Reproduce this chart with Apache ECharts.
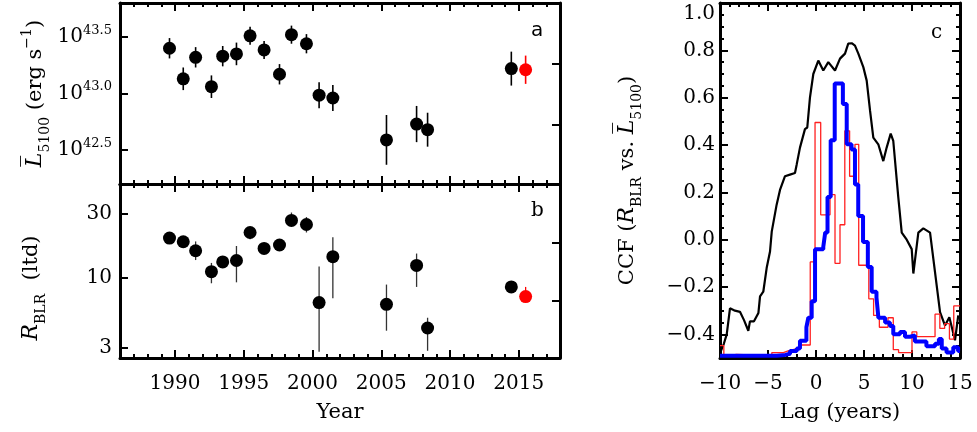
<!DOCTYPE html>
<html><head><meta charset="utf-8">
<script src="https://cdn.jsdelivr.net/npm/echarts@6/dist/echarts.min.js"></script>
<style>html,body{margin:0;padding:0;background:#fff}#c{width:977px;height:432px}</style>
</head><body><div id="c"></div>
<script>
// ---------- data ----------
const epochs   = [1989.6,1990.6,1991.5,1992.65,1993.47,1994.47,1995.46,1996.48,1997.6,1998.47,1999.56,2000.48,2001.48,2005.38,2007.57,2008.37,2014.46];
const logL     = [43.40,43.13,43.32,43.06,43.33,43.35,43.51,43.385,43.17,43.52,43.44,42.985,42.96,42.59,42.73,42.68,43.22];
const logLErr  = [0.09,0.10,0.09,0.10,0.09,0.10,0.08,0.08,0.09,0.08,0.085,0.115,0.115,0.22,0.16,0.15,0.15];
const rBLR     = [19.7,18.5,15.85,11.05,13.07,13.4,21.7,16.5,17.5,26.7,24.9,6.49,14.3,6.3,12.3,4.19,8.5];
const rBLRLo   = [18.7,16.6,13.5,9.05,11.8,9.2,19.3,15.9,16.8,24.1,21.7,2.78,7.0,4.0,8.5,2.83,8.2];
const rBLRHi   = [21.0,19.7,18.6,12.85,14.3,17.2,23.4,17.1,18.2,30.6,28.3,12.1,20.0,8.85,15.1,5.0,8.8];
const newEpoch = [2015.5];
const newLogL = [43.21], newLogLErr = [0.125];
const newR = [7.2], newRLo = [7.2], newRHi = [8.5];

const yearTicks = [1990,1995,2000,2005,2010,2015];
const lumTicks  = [42.5,43.0,43.5];
const rTicks    = [3,10,30];
const ccfTicks  = [-0.4,-0.2,0.0,0.2,0.4,0.6,0.8,1.0];
const lagTicks  = [-10,-5,0,5,10,15];

// CCF curve (black)
const ccfLag = [-9.9,-9.6,-9.3,-8.96,-8.44,-7.92,-7.5,-7.05,-6.88,-6.46,-6.0,-5.83,-5.49,-5.14,-4.79,-4.61,-4.1,-3.75,-3.23,-2.71,-2.19,-2.01,-1.67,-1.15,-0.91,-0.63,-0.28,0.24,0.76,1.28,1.98,2.5,3.02,3.36,3.72,4.06,4.41,4.93,5.28,5.63,5.97,6.49,7.01,7.36,7.78,8.05,8.57,8.93,9.45,9.97,10.14,10.66,11.18,11.88,12.22,12.92,13.44,13.89,14.48,14.82];
const ccfVal = [-0.47,-0.44,-0.40,-0.29,-0.30,-0.305,-0.34,-0.385,-0.345,-0.345,-0.31,-0.24,-0.22,-0.12,-0.05,0.034,0.148,0.21,0.268,0.275,0.282,0.318,0.389,0.467,0.474,0.60,0.70,0.757,0.715,0.75,0.715,0.765,0.786,0.828,0.83,0.82,0.786,0.729,0.672,0.545,0.431,0.403,0.332,0.389,0.448,0.417,0.18,0.03,0.0,-0.04,-0.143,0.03,0.048,0.03,-0.08,-0.306,-0.363,-0.328,-0.425,-0.32];
// lag distribution (blue, thick steps)
const blueLag = [-10,-4.1,-3.2,-2.7,-2.0,-1.67,-1.0,-0.8,-0.45,-0.1,0.76,0.96,1.2,1.53,1.95,2.8,3.2,3.7,4.06,4.4,4.9,5.4,5.8,6.3,6.5,7.2,7.7,8.05,8.75,9.27,9.8,10.3,11.5,12.4,12.8,13.1,13.6,14.3,14.8,15];
const blueVal = [-0.49,-0.487,-0.482,-0.47,-0.46,-0.427,-0.37,-0.33,-0.26,-0.04,-0.03,0.03,0.18,0.42,0.66,0.573,0.403,0.381,0.233,0.10,-0.01,-0.115,-0.22,-0.245,-0.33,-0.35,-0.365,-0.40,-0.39,-0.41,-0.405,-0.43,-0.45,-0.44,-0.42,-0.46,-0.477,-0.455,-0.47,-0.47];
// lag distribution (red, thin steps)
const redLag = [-10,-9.6,-9.0,-8.3,-4.6,-3.4,-2.9,-2.2,-1.6,-0.6,-0.1,0.49,1.46,1.98,2.5,3.0,3.5,4.06,4.45,5.5,6.0,6.6,7.5,8.05,8.6,10.0,10.5,12.4,12.9,13.4,13.9,14.35,15];
const redVal = [-0.448,-0.49,-0.485,-0.49,-0.477,-0.47,-0.463,-0.455,-0.445,-0.094,0.495,0.105,0.19,-0.10,0.063,0.46,0.268,0.403,-0.108,-0.25,-0.32,-0.37,-0.33,-0.465,-0.477,-0.39,-0.41,-0.315,-0.375,-0.355,-0.42,-0.28,-0.28];

// ---------- chart ----------
const FONT = '"DejaVu Serif", serif';
const chart = echarts.init(document.getElementById('c'), null, {renderer:'canvas'});
const zip = (a,b) => a.map((v,i)=>[v,b[i]]);
const minus = v => '{d|' + (v<0?'\u2212':'') + Math.abs(v) + '}';

function major(o){
  return Object.assign({
    type:'value', gridIndex:o.g, position:o.pos, min:o.min, max:o.max,
    axisLine:{show:true, onZero:false, lineStyle:{color:'#000', width:3}},
    axisTick:{show:true, inside:true, length:8, lineStyle:{color:'#000', width:2}, customValues:o.ticks},
    axisLabel:{show:!!o.fmt, customValues:o.ticks, formatter:o.fmt, color:'#000', fontFamily:FONT, fontSize:20, margin:o.margin||8, rich:o.rich||digRich},
    splitLine:{show:false}
  }, o.extra||{});
}
function minor(o){
  return {
    type:'value', gridIndex:o.g, position:o.pos, min:o.min, max:o.max, interval:o.interval,
    axisLine:{show:false, onZero:false}, axisTick:{show:true, inside:true, length:4, lineStyle:{color:'#000', width:2}},
    axisLabel:{show:false}, splitLine:{show:false}
  };
}
function errBars(xi, yi, xs, lo, hi, color, w){
  return {type:'custom', xAxisIndex:xi, yAxisIndex:yi, silent:true, z:2,
    data: xs.map((x,i)=>[x,lo[i],hi[i]]),
    renderItem:(p, api)=>{
      const a = api.coord([api.value(0), api.value(1)]);
      const b = api.coord([api.value(0), api.value(2)]);
      return {type:'line', shape:{x1:a[0],y1:a[1],x2:b[0],y2:b[1]}, style:{stroke:color, lineWidth:w}};
    }};
}

const digRich = {d:{fontFamily:FONT,fontSize:20,color:'#000'}, t:{fontFamily:FONT,fontSize:20,color:'#000',padding:[22,0,0,0]}};
const richSup = {b:{fontFamily:FONT,fontSize:20,verticalAlign:'bottom',lineHeight:20}, s:{fontFamily:FONT,fontSize:13,verticalAlign:'bottom',lineHeight:13,padding:[0,0,10,0]}};
const nameRich = {
  n:{fontFamily:FONT,fontSize:21,lineHeight:21,verticalAlign:'bottom',padding:[0,0,6,0],color:'#000'},
  m:{fontFamily:FONT,fontSize:21,color:'#000'},
  i:{fontFamily:FONT,fontSize:22,fontStyle:'italic',lineHeight:22,verticalAlign:'bottom',padding:[0,0,6,0]},
  sub:{fontFamily:FONT,fontSize:14,lineHeight:14,verticalAlign:'bottom',padding:[0,0,0,0]},
  sup:{fontFamily:FONT,fontSize:14,lineHeight:14,verticalAlign:'bottom',padding:[0,0,18,0]}
};

const xA=[], yA=[];
// grid 0 (panel a)
xA.push(major({g:0,pos:'bottom',min:1986,max:2018,ticks:yearTicks}));
xA.push(minor({g:0,pos:'bottom',min:1986,max:2018,interval:1}));
xA.push(major({g:0,pos:'top',min:1986,max:2018,ticks:yearTicks}));
xA.push(minor({g:0,pos:'top',min:1986,max:2018,interval:1}));
yA.push(major({g:0,pos:'left',min:42.2,max:43.8,ticks:lumTicks,fmt:v=>'{b|10}{s|'+v.toFixed(1)+'}',rich:richSup,
  extra:{name:'{i|L\u0305}{sub|5100}{n| (erg s}{sup|\u22121}{n|)}', nameLocation:'middle', nameRotate:90, nameGap:68, nameTextStyle:{rich:nameRich}}}));
yA.push(major({g:0,pos:'right',min:0.02,max:2.99,ticks:[1,2]}));
// grid 1 (panel b)
xA.push(major({g:1,pos:'bottom',min:1986,max:2018,ticks:yearTicks,fmt:minus,margin:16,
  extra:{name:'{m|Year}', nameLocation:'middle', nameGap:44, nameTextStyle:{rich:nameRich}}}));
xA.push(minor({g:1,pos:'bottom',min:1986,max:2018,interval:1}));
xA.push(major({g:1,pos:'top',min:1986,max:2018,ticks:yearTicks}));
xA.push(minor({g:1,pos:'top',min:1986,max:2018,interval:1}));
yA.push(major({g:1,pos:'left',min:2.5,max:50,ticks:rTicks,fmt:v=>'{d|'+Math.round(v)+'}',
  extra:{type:'log', logBase:10, name:'{i|R}{sub|BLR}{n|  (ltd)}', nameLocation:'middle', nameRotate:90, nameGap:72, nameTextStyle:{rich:nameRich, padding:[0,34,0,0]}}}));
yA.push(major({g:1,pos:'right',min:0.02,max:2.999,ticks:[1,2]}));
// grid 2 (panel c)
xA.push(major({g:2,pos:'bottom',min:-10,max:15,ticks:lagTicks,fmt:minus,margin:16,
  extra:{name:'{m|Lag (years)}', nameLocation:'middle', nameGap:44, nameTextStyle:{rich:nameRich}}}));
xA.push(minor({g:2,pos:'bottom',min:-10,max:15,interval:1}));
xA.push(major({g:2,pos:'top',min:-10,max:15,ticks:lagTicks}));
xA.push(minor({g:2,pos:'top',min:-10,max:15,interval:1}));
yA.push(major({g:2,pos:'left',min:-0.5,max:1.0,ticks:ccfTicks,margin:5,
  fmt:v=> Math.abs(v-1)<1e-6 ? '{t|1.0}' : '{d|'+(v<0?'\u2212':'')+Math.abs(v).toFixed(1)+'}',
  extra:{name:'{n|CCF (}{i|R}{sub|BLR}{n| vs. }{i|L\u0305}{sub|5100}{n|)}', nameLocation:'middle', nameRotate:90, nameGap:76, nameTextStyle:{rich:nameRich}}}));
yA.push(minor({g:2,pos:'left',min:-0.5,max:1.0,interval:0.05}));
yA.push(major({g:2,pos:'right',min:-0.5,max:1.0,ticks:ccfTicks}));
yA.push(minor({g:2,pos:'right',min:-0.5,max:1.0,interval:0.05}));

const dot = c => ({color:c, opacity:1});
const option = {
  animation:false,
  backgroundColor:'#fff',
  textStyle:{fontFamily:FONT},
  grid:[
    {left:120, top:3, width:440, height:181, outerBoundsMode:'none'},
    {left:120, top:184, width:440, height:174, outerBoundsMode:'none'},
    {left:720, top:3, width:240, height:355, outerBoundsMode:'none'}
  ],
  xAxis:xA, yAxis:yA,
  graphic:[
    {type:'text', left:531, top:21, style:{text:'a', font:'20px "DejaVu Sans"', fill:'#000'}},
    {type:'text', left:531, top:201, style:{text:'b', font:'20px "DejaVu Serif"', fill:'#000'}},
    {type:'text', left:931, top:23, style:{text:'c', font:'20px "DejaVu Serif"', fill:'#000'}}
  ],
  series:[
    errBars(0,0,epochs,logL.map((v,i)=>v-logLErr[i]),logL.map((v,i)=>v+logLErr[i]),'#000',1.6),
    errBars(0,0,newEpoch,newLogL.map((v,i)=>v-newLogLErr[i]),newLogL.map((v,i)=>v+newLogLErr[i]),'#ff0000',1.6),
    {type:'scatter', xAxisIndex:0, yAxisIndex:0, data:zip(epochs,logL), symbolSize:13, itemStyle:dot('#000'), z:3},
    {type:'scatter', xAxisIndex:0, yAxisIndex:0, data:zip(newEpoch,newLogL), symbolSize:13, itemStyle:dot('#ff0000'), z:3},
    errBars(4,2,epochs,rBLRLo,rBLRHi,'#333',1.3),
    errBars(4,2,newEpoch,newRLo,newRHi,'#ff0000',1.3),
    {type:'scatter', xAxisIndex:4, yAxisIndex:2, data:zip(epochs,rBLR), symbolSize:13, itemStyle:dot('#000'), z:3},
    {type:'scatter', xAxisIndex:4, yAxisIndex:2, data:zip(newEpoch,newR), symbolSize:13, itemStyle:dot('#ff0000'), z:3},
    {type:'line', xAxisIndex:8, yAxisIndex:4, data:zip(ccfLag,ccfVal), showSymbol:false, lineStyle:{color:'#000',width:2.2}, z:2},
    {type:'line', xAxisIndex:8, yAxisIndex:4, data:zip(redLag,redVal), step:'end', showSymbol:false, lineStyle:{color:'#ff2020',width:1.3}, z:3},
    {type:'line', xAxisIndex:8, yAxisIndex:4, data:zip(blueLag,blueVal), step:'end', showSymbol:false, lineStyle:{color:'#0000ff',width:4}, z:4}
  ]
};
chart.setOption(option);
</script></body></html>
